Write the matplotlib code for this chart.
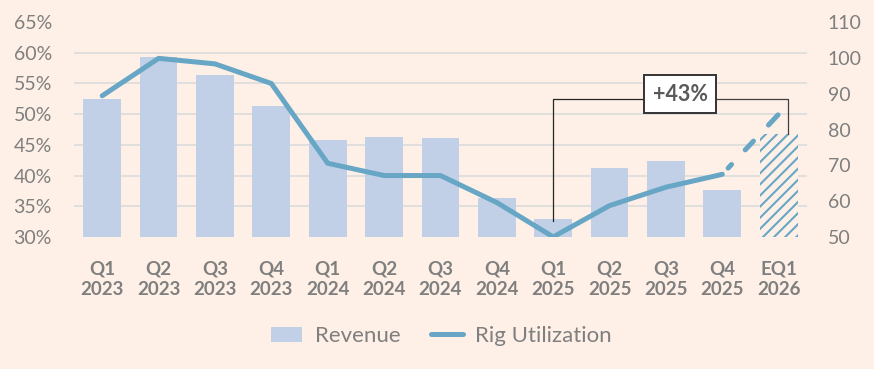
import numpy as np
import matplotlib
matplotlib.use('Agg')
from matplotlib import pyplot as plt
from matplotlib.patches import Patch
from matplotlib.lines import Line2D

plt.rcParams['font.family'] = ['Lato', 'DejaVu Sans']
plt.rcParams['hatch.linewidth'] = 1.5

# data
quarters = ['Q1\n2023', 'Q2\n2023', 'Q3\n2023', 'Q4\n2023',
            'Q1\n2024', 'Q2\n2024', 'Q3\n2024', 'Q4\n2024',
            'Q1\n2025', 'Q2\n2025', 'Q3\n2025', 'Q4\n2025', 'EQ1\n2026']
revenue = [88.5, 100.2, 95.2, 86.5, 77.0, 77.9, 77.6, 60.8, 55.0, 69.2, 71.2, 63.0, 78.7]
utilization = [53.0, 59.1, 58.2, 55.0, 42.0, 40.0, 40.0, 35.6, 30.0, 35.1, 38.1, 40.2, 50.0]
estimate_from = 11   # last actual quarter, EQ1 2026 is an estimate

bg = '#FEF0E6'
bar_col = '#C2D0E7'
line_col = '#68A6C5'
txt_col = '#7F7F7F'

fig = plt.figure(figsize=(8.74, 3.69), dpi=100, facecolor=bg)
ax = fig.add_axes([0.0847, 0.358, 0.8385, 0.582])
ax.set_facecolor(bg)
ax2 = ax.twinx()
x = np.arange(len(quarters))

# revenue bars (right scale)
ax.bar(x[:-1], revenue[:-1], width=0.67, color=bar_col, zorder=2)
ax.bar(x[-1], revenue[-1], width=0.67, facecolor=bg, edgecolor=line_col,
       hatch='///', linewidth=0, zorder=2)
ax.set_ylim(50, 110)
ax.set_xlim(-0.5, len(quarters) - 0.5)
ax.set_yticks(np.arange(50, 111, 10))
ax.set_yticks(np.linspace(50, 110, 8), minor=True)
ax.grid(which='minor', axis='y', color='#DCDCDC', linewidth=1.2, zorder=0)
ax.set_axisbelow(True)
ax.tick_params(axis='y', which='both', length=0, pad=15, labelsize=14, labelcolor=txt_col,
               left=False, labelleft=False, right=False, labelright=True)
ax.set_xticks(x)
ax.set_xticklabels(quarters, fontweight='bold', linespacing=1.25)
ax.tick_params(axis='x', length=0, pad=17, labelsize=13.5, labelcolor=txt_col)
for s in ax.spines.values():
    s.set_visible(False)

# rig utilization line (left scale), dashed for the estimate
ax2.plot(x[:estimate_from + 1], utilization[:estimate_from + 1], color=line_col,
         linewidth=3.6, solid_capstyle='round', solid_joinstyle='round', zorder=3)
ax2.plot(x[estimate_from:], utilization[estimate_from:], color=line_col, linewidth=3.6,
         dash_capstyle='round', linestyle=(15.9, (1.0, 4.0, 2.4, 4.4, 2.8, 3.0)), zorder=3)
ax2.set_ylim(30, 65)
ax2.set_yticks(np.arange(30, 66, 5))
ax2.set_yticklabels([f'{v}%' for v in range(30, 66, 5)])
ax2.tick_params(axis='y', length=0, pad=16, labelsize=14, labelcolor=txt_col,
                left=False, labelleft=True, right=False, labelright=False)
for s in ax2.spines.values():
    s.set_visible(False)

# +43% bracket between Q1 2025 and EQ1 2026
i0, i1 = 8, len(quarters) - 1
growth = (revenue[i1] / revenue[i0] - 1) * 100
top = 88.6
ax2.plot([i0, i0, 9.9], [revenue[i0] - 0.6, top, top], color='#262626',
         linewidth=0.9, transform=ax.transData, zorder=4)
ax2.plot([10.6, i1 + 0.16, i1 + 0.16], [top, top, revenue[i1]], color='#404040',
         linewidth=0.9, transform=ax.transData, zorder=4)
ax2.text(10.25, 89.9, f'+{growth:.0f}%', transform=ax.transData, ha='center', va='center',
         fontsize=15.5, fontweight='bold', color='#595959', zorder=5,
         bbox=dict(boxstyle='square,pad=0.38', facecolor='white', edgecolor='#333333', linewidth=1.4))

handles = [Patch(facecolor=bar_col, label='Revenue'),
           Line2D([0], [0], color=line_col, linewidth=3.6, solid_capstyle='round', label='Rig Utilization')]
leg = fig.legend(handles=handles, loc='center', bbox_to_anchor=(0.505, 0.089), ncol=2,
                 frameon=False, fontsize=16, handlelength=1.4, handletextpad=0.55,
                 columnspacing=1.4)
for t in leg.get_texts():
    t.set_color(txt_col)

fig.savefig('out.png', dpi=100, facecolor=bg)
